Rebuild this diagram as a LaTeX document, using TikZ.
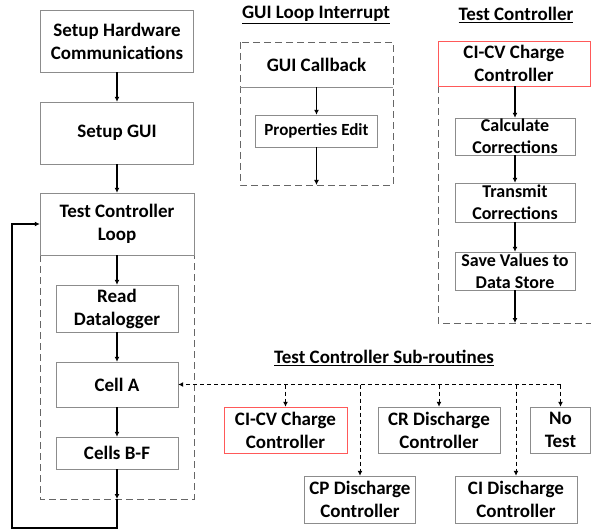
\documentclass[tikz,border=0pt]{standalone}
\usepackage{fontspec}
\setmainfont{Carlito}
\usetikzlibrary{arrows.meta}

\tikzset{
  box/.style={draw=black!45, fill=white, align=center, inner sep=0pt,
    font=\bfseries\fontsize{19}{23}\selectfont},
  smallbox/.style={box, font=\bfseries\fontsize{18}{22}\selectfont},
  redbox/.style={box, draw=red!65},
  flow/.style={-{Latex[length=5pt,width=5pt]}, line width=1.2pt},
  subflow/.style={flow, dashed, line width=1pt, dash pattern=on 4pt off 3pt},
  frame/.style={draw=black!60, dashed, dash pattern=on 7pt off 4pt, line width=0.8pt},
  heading/.style={font=\bfseries\fontsize{19}{23}\selectfont}
}

\begin{document}
\begin{tikzpicture}[x=1pt,y=-1pt]
    \useasboundingbox (0,0) rectangle (591,529);

    % main loop
    \draw[frame] (40,255) rectangle (194,499); % loop container
    \node[box, minimum width=153pt, minimum height=62pt] (hw) at (117,41) {Setup Hardware\\Communications};
    \node[box, minimum width=153pt, minimum height=62pt] (gui) at (117,133) {Setup GUI};
    \node[box, minimum width=154pt, minimum height=62pt] (tcl) at (117,224) {Test Controller\\Loop};
    \node[box, minimum width=122pt, minimum height=47pt] (rd) at (117,308.5) {Read\\Datalogger};
    \node[box, minimum width=122pt, minimum height=45pt] (cella) at (117,384.5) {Cell A};
    \node[box, minimum width=122pt, minimum height=32pt] (cellsbf) at (117,453) {Cells B-F};
    \coordinate (lbot) at (117,499);
    \coordinate (lcorner) at (12,528);
    \draw[flow] (hw) -- (gui);
    \draw[flow] (gui) -- (tcl);
    \draw[flow] (tcl) -- (rd);
    \draw[flow] (rd) -- (cella);
    \draw[flow] (cella) -- (cellsbf);
    \draw[flow] (cellsbf) -- (lbot);
    \draw[flow] (lbot) |- (lcorner) |- (tcl.west); % back to the top of the loop

    % gui interrupt
    \node[heading] (gtitle) at (316,15) {\underline{GUI Loop Interrupt}};
    \draw[frame] (240,42) rectangle (393,185); % interrupt container
    \node[box, draw=none, fill=none, minimum width=153pt, minimum height=45pt] (gcb) at (316.5,64.5) {GUI Callback};
    \draw[black!45, thin] (gcb.south west) -- (gcb.south east);
    \node[box, font=\bfseries\fontsize{17}{21}\selectfont, minimum width=122pt, minimum height=32pt] (pe) at (316.5,131) {Properties Edit};
    \coordinate (gbot) at (316.5,185);
    \draw[flow] (gcb) -- (pe);
    \draw[flow] (pe) -- (gbot);

    % test controller
    \node[heading] (ttitle) at (516,15) {\underline{Test Controller}};
    \draw[frame] (438,86) -- (438,323) -- (591,323); % controller container
    \node[redbox, minimum width=152pt, minimum height=45pt] (ccv) at (514,63.5) {CI-CV Charge\\Controller};
    \node[smallbox, minimum width=120pt, minimum height=37pt] (calc) at (515,136.5) {Calculate\\Corrections};
    \node[smallbox, minimum width=120pt, minimum height=39pt] (trans) at (515,202.5) {Transmit\\Corrections};
    \node[smallbox, minimum width=120pt, minimum height=38pt] (save) at (515,271) {Save Values to\\Data Store};
    \coordinate (tbot) at (515,323);
    \draw[flow] (ccv.south -| calc.north) -- (calc);
    \draw[flow] (calc) -- (trans);
    \draw[flow] (trans) -- (save);
    \draw[flow] (save) -- (tbot);

    % sub-routines
    \node[heading] (stitle) at (384,358) {\underline{Test Controller Sub-routines}};
    \node[redbox, minimum width=123pt, minimum height=46pt] (sccv) at (285.5,430) {CI-CV Charge\\Controller};
    \node[box, minimum width=111pt, minimum height=47pt] (scp) at (360,499.5) {CP Discharge\\Controller};
    \node[box, minimum width=122pt, minimum height=46pt] (scr) at (439,430) {CR Discharge\\Controller};
    \node[box, minimum width=122pt, minimum height=47pt] (sci) at (516,499.5) {CI Discharge\\Controller};
    \node[box, minimum width=60pt, minimum height=46pt] (snt) at (560.5,430) {No\\Test};
    \coordinate (bus) at (560.5,384.5);
    \draw[subflow] (bus) -- (bus -| cella.east); % call into Cell A
    \foreach \sub in {sccv,scp,scr,sci,snt}
      \draw[subflow] (bus -| \sub.north) -- (\sub.north);
\end{tikzpicture}
\end{document}
